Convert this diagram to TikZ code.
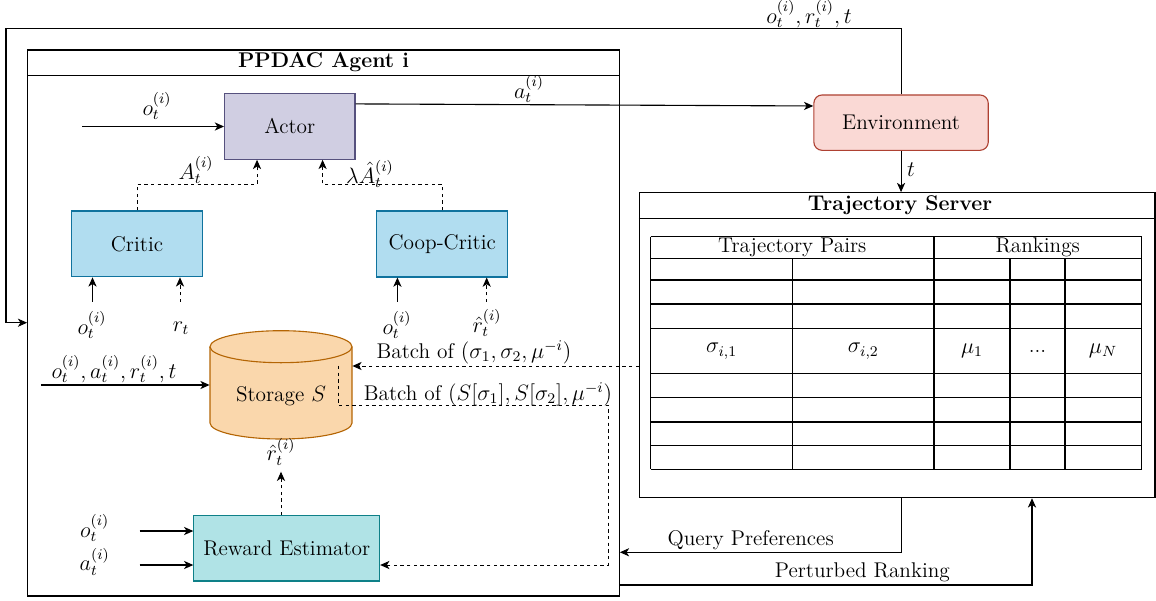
\documentclass[tikz,border=0pt]{standalone}
\usetikzlibrary{arrows.meta,fit,calc}
\definecolor{actF}{HTML}{D0CEE2}
\definecolor{actD}{HTML}{56517E}
\definecolor{criF}{HTML}{B1DDF0}
\definecolor{criD}{HTML}{10739E}
\definecolor{envF}{HTML}{FAD9D5}
\definecolor{envD}{HTML}{AE4132}
\definecolor{stoF}{HTML}{FAD7AC}
\definecolor{stoD}{HTML}{B46504}
\definecolor{reF}{HTML}{B0E3E6}
\definecolor{reD}{HTML}{0E8088}
\begin{document}
\begin{tikzpicture}[x=0.54pt,y=-0.54pt,
  every node/.style={font=\fontsize{11.5pt}{13.8pt}\selectfont},
  ln/.style={line width=0.6pt},
  arr/.style={ln,-{Stealth[length=5pt,width=4.4pt,inset=1.4pt]}},
  dsh/.style={line width=0.5pt,dash pattern=on 1.8pt off 1.8pt},
  blk/.style={draw,line width=0.6pt,inner sep=0pt},
]
\useasboundingbox (0,0) rectangle (1156,601);

% ---------- agent box
\node[blk,fit={(27.7,50) (619.3,596)}] (agent) {};
\coordinate (agsep) at (0,75.3);
\draw[ln] (agent.west |- agsep) -- (agent.east |- agsep);
\node (agtitle) at (323.5,62.5) {\bfseries PPDAC Agent i};

% ---------- trajectory server box
\node[blk,fit={(639.4,192.7) (1155,497.7)}] (server) {};
\coordinate (svsep) at (0,218.3);
\draw[ln] (server.west |- svsep) -- (server.east |- svsep);
\node (svtitle) at (900,205) {\bfseries Trajectory Server};

% ---------- blocks
\node[blk,fill=actF,draw=actD,minimum width=70.4pt,minimum height=35.4pt] (actor) at (289.8,126.5) {Actor};
\node[blk,fill=criF,draw=criD,minimum width=70.6pt,minimum height=35.5pt] (critic) at (137,243.9) {Critic};
\node[blk,fill=criF,draw=criD,minimum width=70.7pt,minimum height=35.6pt] (coop) at (442.25,244) {Coop-Critic};
\node[blk,fill=reF,draw=reD,minimum width=100.3pt,minimum height=35.3pt] (RE) at (286.75,548.35) {Reward Estimator};
\node[blk,fill=envF,draw=envD,rounded corners=4.5pt,minimum width=94.2pt,minimum height=29.9pt] (env) at (901.05,122.65) {Environment};

% storage cylinder
\node[inner sep=0pt,fit={(210,330.7) (352,439)}] (stor) {};
\filldraw[fill=stoF,draw=stoD,line width=0.6pt] (210,346.7) -- (210,423)
  arc[start angle=180,end angle=360,x radius=38.34pt,y radius=8.64pt]
  -- (352,346.7)
  arc[start angle=0,end angle=180,x radius=38.34pt,y radius=8.64pt] -- cycle;
\draw[draw=stoD,line width=0.6pt] (210,346.7)
  arc[start angle=180,end angle=360,x radius=38.34pt,y radius=8.64pt];
\node (storlbl) at (281,396.5) {Storage $S$};

% ---------- table
\foreach \yy in {236.7,258.3,280,304,328.3,373.3,397.7,422,445.7,469.3}
  \draw[ln] (650.7,\yy) -- (1141.5,\yy);
\foreach \xx in {650.7,934,1141.5}
  \draw[ln] (\xx,236.7) -- (\xx,469.3);
\foreach \xx in {792.6,1010,1065}
  \draw[ln] (\xx,258.3) -- (\xx,469.3);
\node (thA) at (792.3,247.5) {Trajectory Pairs};
\node (thB) at (1037.7,247.5) {Rankings};
\node (c1) at (721.6,351) {$\sigma_{i,1}$};
\node (c2) at (863.3,351) {$\sigma_{i,2}$};
\node (c3) at (972,351) {$\mu_1$};
\node (c4) at (1037.5,351) {...};
\node (c5) at (1103,351) {$\mu_N$};

% ---------- connectors
% feedback loop
\coordinate (fbc) at (6,28.3);
\coordinate (fby) at (0,322.7);
\draw[arr] (env.north) |- (fbc) |- (agent.west |- fby);
\node (lfb) at (809,14) {$o_t^{(i)}, r_t^{(i)}, t$};

% actor -> env
\draw[arr] ([yshift=12.2pt]actor.east) -- ([yshift=9pt]env.west);
\node (lat) at (529,89) {$a_t^{(i)}$};

% o -> actor
\coordinate (oin) at (82,126.5);
\draw[arr] (oin) -- (actor.west);
\node (lot) at (157,106) {$o_t^{(i)}$};

% critics -> actor
\draw[arr,dsh] (critic.north) -- ++(0,-26) -| ([xshift=-17.7pt]actor.south);
\node (lA) at (196,170) {$A_t^{(i)}$};
\draw[arr,dsh] (coop.north) -- ++(0,-26) -| ([xshift=17.7pt]actor.south);
\node (lAh) at (370,174) {$\lambda\hat{A}_t^{(i)}$};

% critic inputs
\coordinate (ci1) at (92.5,302);
\coordinate (ci2) at (180,302);
\draw[arr] (ci1) -- (ci1 |- critic.south);
\draw[arr,dsh] (ci2) -- (ci2 |- critic.south);
\node (lc1) at (92,325) {$o_t^{(i)}$};
\node (lc2) at (181,328) {$r_t$};

% coop inputs
\coordinate (ki1) at (397.4,302);
\coordinate (ki2) at (486.7,302);
\draw[arr] (ki1) -- (ki1 |- coop.south);
\draw[arr,dsh] (ki2) -- (ki2 |- coop.south);
\node (lk1) at (397,325) {$o_t^{(i)}$};
\node (lk2) at (487,323) {$\hat r_t^{(i)}$};

% storage input
\coordinate (sin) at (40.8,385);
\draw[arr] (sin) -- (sin -| stor.west);
\node (lsin) at (114,369) {$o_t^{(i)}, a_t^{(i)}, r_t^{(i)}, t$};

% batch from server to storage
\coordinate (by) at (0,366);
\draw[arr,dsh] (server.west |- by) -- (stor.east |- by);
\node (lb1) at (474,352) {Batch of $(\sigma_1,\sigma_2,\mu^{-i})$};
\coordinate (br) at (338,366);
\coordinate (bc) at (608,405);
\draw[arr,dsh] (br) |- (bc) |- ([yshift=-9pt]RE.east);
\node (lb2) at (488,394) {Batch of $(S[\sigma_1],S[\sigma_2],\mu^{-i})$};

% reward estimator -> storage
\node (rhat) at (281,451.7) {$\hat r_t^{(i)}$};
\draw[arr,dsh] (rhat.south |- RE.north) -- (rhat.south);

% reward estimator inputs
\coordinate (ri1) at (139.6,531);
\coordinate (ri2) at (139.6,565);
\draw[arr] (ri1) -- (ri1 -| RE.west);
\draw[arr] (ri2) -- (ri2 -| RE.west);
\node (lr1) at (94.7,528) {$o_t^{(i)}$};
\node (lr2) at (94.7,561.7) {$a_t^{(i)}$};

% env -> server
\draw[arr] (env.south) -- (env.south |- server.north);
\node (lt) at (911,170) {$t$};

% query preferences
\coordinate (qx) at (901.4,552.3);
\draw[arr] (qx |- server.south) |- (agent.east |- qx);
\node (lq) at (750.7,540) {Query Preferences};

% perturbed ranking
\coordinate (px) at (1032,585);
\draw[arr] (agent.east |- px) -| (px |- server.south);
\node (lp) at (862.4,572.7) {Perturbed Ranking};
\end{tikzpicture}
\end{document}
